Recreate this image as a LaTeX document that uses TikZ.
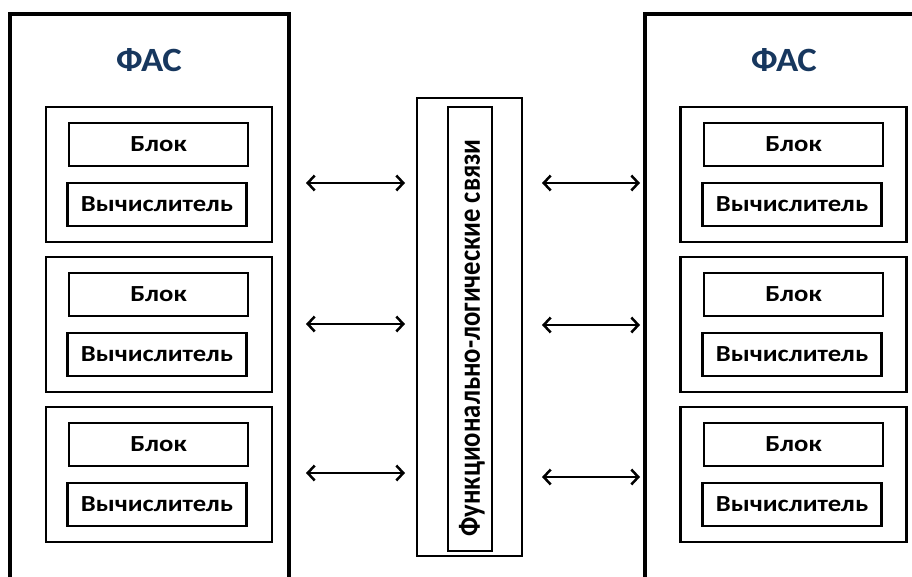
\documentclass[tikz,border=0pt]{standalone}
\usepackage{fontspec}
\setmainfont{Carlito}
\usetikzlibrary{arrows.meta}
\definecolor{fasblue}{RGB}{23,55,94}
\newcommand\stretchtxt[1]{\scalebox{1.16}[1]{#1}}
\tikzset{
  bigbox/.style={draw, line width=3.6pt, inner sep=0pt},
  grpbox/.style={draw, line width=2.2pt, inner sep=0pt, minimum width=226pt, minimum height=135pt},
  itembox/.style={draw, line width=2.4pt, inner sep=0pt, minimum width=179pt, minimum height=43pt, font=\fontsize{23}{26}\selectfont\bfseries},
  title/.style={font=\fontsize{34}{38}\selectfont\bfseries, text=fasblue, inner sep=0pt},
  link/.style={line width=2.5pt, {Straight Barb[length=7pt,width=15pt]}-{Straight Barb[length=7pt,width=15pt]}},
}
\begin{document}
\begin{tikzpicture}[x=1pt,y=-1pt]
\useasboundingbox (0,0) rectangle (912,576);
\clip (0,0) rectangle (912,576);
% big boxes
\node[bigbox, minimum width=279pt, minimum height=600pt] (bigL) at (149.5,314) {};
\node[bigbox, minimum width=290pt, minimum height=600pt] (bigR) at (790,314) {};
\node[title] (tL) at (149,60) {\scalebox{1.08}[1]{ФАС}};
\node[title] (tR) at (784,60) {\scalebox{1.08}[1]{ФАС}};
% groups
\foreach \i/\y in {1/174.5,2/324.5,3/474.5}{
  \node[grpbox] (gL\i) at (159,\y) {};
  \node[itembox] (bL\i) at (158.5,\y-30) {\stretchtxt{Блок}};
  \node[itembox] (vL\i) at (157,\y+30) {\stretchtxt{Вычислитель}};
  \node[grpbox] (gR\i) at (793.5,\y) {};
  \node[itembox] (bR\i) at (793.5,\y-30) {\stretchtxt{Блок}};
  \node[itembox] (vR\i) at (792,\y+30) {\stretchtxt{Вычислитель}};
}
% middle
\node[draw, line width=2pt, minimum width=105pt, minimum height=458pt, inner sep=0pt] (mid) at (469.5,327) {};
\node[draw, line width=2.4pt, minimum width=44pt, minimum height=444pt, inner sep=0pt] (midin) at (470,329) {};
\node[rotate=90, inner sep=0pt, font=\bfseries] (midtxt) at (472,338) {\scalebox{1}[1.16]{\resizebox{397pt}{!}{Функционально-логические связи}}};
% arrows
\foreach \i/\yl/\yr in {1/183/183,2/324/325,3/473/477}{
  \coordinate (al\i) at (306,\yl);
  \coordinate (bl\i) at (405,\yl);
  \coordinate (ar\i) at (542,\yr);
  \coordinate (br\i) at (640,\yr);
  \draw[link] (al\i) -- (bl\i);
  \draw[link] (ar\i) -- (br\i);
}
\end{tikzpicture}
\end{document}
